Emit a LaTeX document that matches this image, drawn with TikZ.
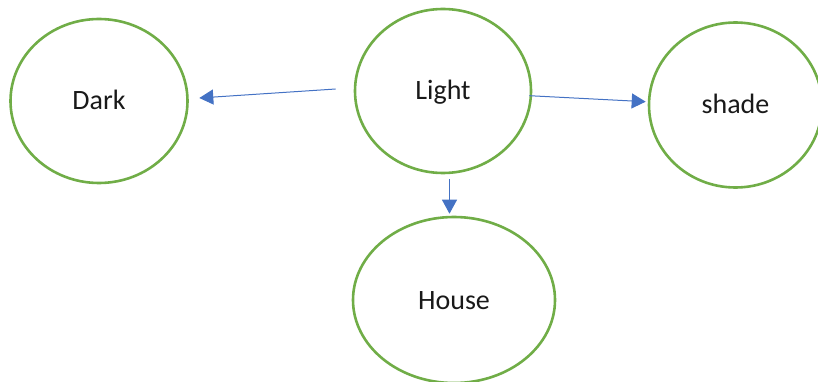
\documentclass[tikz,border=0pt]{standalone}
\usepackage{fontspec}
\setmainfont{Carlito}
\usetikzlibrary{arrows.meta,calc,shapes.geometric}
\definecolor{ringgreen}{HTML}{70AD47}
\definecolor{linkblue}{HTML}{4472C4}
\begin{document}
\begin{tikzpicture}[x=1pt,y=-1pt,
  concept/.style={ellipse,draw=ringgreen,line width=2.6pt,inner sep=0pt,
    font=\fontsize{28}{34}\selectfont,text=black!90,text height=18pt,text depth=0pt},
  link/.style={draw=linkblue,line width=1pt,-{Triangle[length=14pt,width=15pt]}}]
  \useasboundingbox (0,0) rectangle (818,382);
  % concepts
  \node[concept,minimum width=177pt,minimum height=164pt] (Dark)  at (99,101)  {Dark};
  \node[concept,minimum width=176pt,minimum height=164pt] (Light) at (443,91)  {Light};
  \node[concept,minimum width=173pt,minimum height=165pt] (shade) at (735.5,105) {shade};
  \node[concept,minimum width=202pt,minimum height=166pt] (House) at (454,300) {House};
  % links
  \draw[link] ($(Light.west)+(-18,-2)$) -- ($(Dark.east)+(10.5,-3)$);
  \draw[link] ($(Light.east)+(-3,4.7)$) -- ($(shade.west)+(-2,-3.3)$);
  \draw[link] ($(Light.south)+(6.5,5)$) -- ($(House.north)+(-4.5,-2)$);
\end{tikzpicture}
\end{document}
